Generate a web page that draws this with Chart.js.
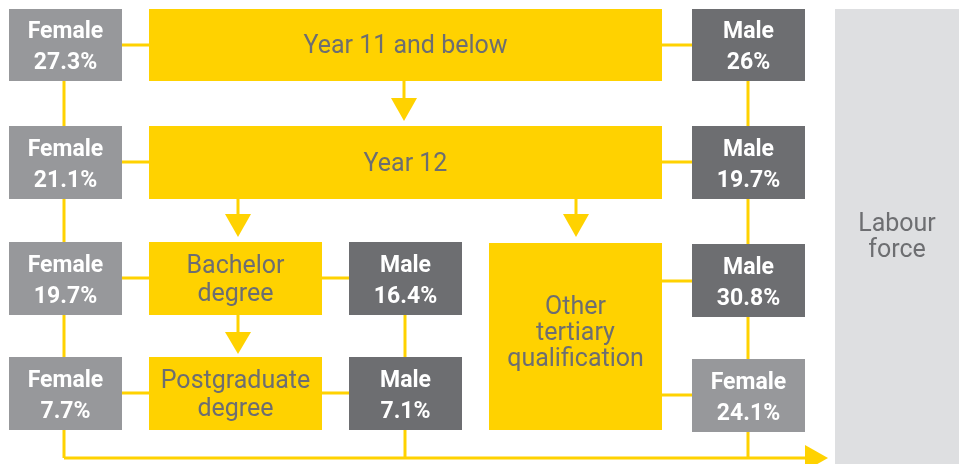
<!DOCTYPE html>
<html>
<head>
<meta charset="utf-8">
<script src="https://cdn.jsdelivr.net/npm/chart.js@4"></script>
<style>
  html, body { margin: 0; padding: 0; background: #fff; }
  canvas { display: block; }
</style>
</head>
<body>
<canvas id="flow_chart" width="959" height="464"></canvas>
<script>
'use strict';

// Data
const levels = ['Year 11 and below', 'Year 12', 'Bachelor degree', 'Postgraduate degree', 'Other tertiary qualification'];
const femaleShare = [27.3, 21.1, 19.7, 7.7, 24.1];
const maleShare = [26, 19.7, 16.4, 7.1, 30.8];
const destination = 'Labour force';

// Colours
const yellow = '#FFD200';
const femaleGrey = '#97989B';
const maleGrey = '#6D6E71';
const labourGrey = '#DEDFE1';
const textGrey = '#6D6E71';

const labelFont = '25px Roboto, "Open Sans", sans-serif';
const shareFont = 'bold 23px Roboto, "Open Sans", sans-serif';

// Layout (diagram units, same as the 959 x 464 canvas)
const levelBoxes = [
  { x: [149, 662], y: [9, 81], wrap: 400 },
  { x: [149, 662], y: [126, 199], wrap: 400 },
  { x: [149, 322], y: [242, 315], wrap: 120 },
  { x: [149, 322], y: [357, 430], wrap: 165 },
  { x: [489, 662], y: [243, 430], wrap: 130 }
];
const femaleBoxes = [
  { x: [9, 122], y: [9, 81] },
  { x: [9, 122], y: [126, 199] },
  { x: [9, 122], y: [242, 315] },
  { x: [9, 122], y: [357, 430] },
  { x: [692, 805], y: [359, 432] }
];
const maleBoxes = [
  { x: [692, 805], y: [9, 81] },
  { x: [692, 805], y: [126, 199] },
  { x: [349, 462], y: [242, 315] },
  { x: [349, 462], y: [357, 430] },
  { x: [692, 805], y: [244, 317] }
];
const labourBox = { x: [835, 980], y: [9, 480], wrap: 80 };

const connectors = [
  [[64, 81], [64, 458]],
  [[405, 315], [405, 458]],
  [[748, 81], [748, 458]],
  [[64, 458], [810, 458]],
  [[64, 45], [748, 45]],
  [[64, 162], [748, 162]],
  [[64, 278], [405, 278]],
  [[64, 393], [405, 393]],
  [[662, 281], [748, 281]],
  [[662, 395], [748, 395]]
];
// [x, from y, triangle top, tip]
const downArrows = [
  [404, 81, 98, 121],
  [238, 199, 214, 237],
  [576, 199, 214, 237],
  [238, 315, 332, 354]
];

function wrapText(ctx, text, maxWidth) {
  const words = text.split(' ');
  const lines = [];
  let line = '';
  words.forEach(w => {
    const test = line ? line + ' ' + w : w;
    if (line && ctx.measureText(test).width > maxWidth) {
      lines.push(line);
      line = w;
    } else {
      line = test;
    }
  });
  lines.push(line);
  return lines;
}

const flowPlugin = {
  id: 'flow',
  beforeDatasetsDraw(chart) {
    const ctx = chart.ctx;
    const sx = chart.scales.x;
    const sy = chart.scales.y;
    const px = v => sx.getPixelForValue(v);
    const py = v => sy.getPixelForValue(v);

    function rect(box, color) {
      const x0 = px(box.x[0]), x1 = px(box.x[1]);
      const y0 = py(box.y[0]), y1 = py(box.y[1]);
      ctx.fillStyle = color;
      ctx.fillRect(x0, y0, x1 - x0, y1 - y0);
      return { cx: (x0 + x1) / 2, cy: (y0 + y1) / 2 };
    }

    // text baseline 'middle' sits a little high for Roboto, nudge down
    function lines(list, cx, cy, gap) {
      const top = cy + 2 - (list.length - 1) * gap / 2;
      list.forEach((t, i) => ctx.fillText(t, cx, top + i * gap));
    }

    ctx.save();
    ctx.textAlign = 'center';
    ctx.textBaseline = 'middle';

    // Labour force panel
    rect(labourBox, labourGrey);
    ctx.font = labelFont;
    ctx.fillStyle = textGrey;
    lines(wrapText(ctx, destination, labourBox.wrap), px(897), py(236), 26);

    // Connector lines
    ctx.strokeStyle = yellow;
    ctx.lineWidth = 3;
    connectors.forEach(seg => {
      ctx.beginPath();
      ctx.moveTo(px(seg[0][0]), py(seg[0][1]));
      ctx.lineTo(px(seg[1][0]), py(seg[1][1]));
      ctx.stroke();
    });

    // Arrow into labour force
    ctx.fillStyle = yellow;
    ctx.beginPath();
    ctx.moveTo(px(805), py(445));
    ctx.lineTo(px(828), py(458));
    ctx.lineTo(px(805), py(471));
    ctx.closePath();
    ctx.fill();

    // Down arrows
    downArrows.forEach(a => {
      ctx.beginPath();
      ctx.moveTo(px(a[0]), py(a[1]));
      ctx.lineTo(px(a[0]), py(a[2]));
      ctx.stroke();
      ctx.beginPath();
      ctx.moveTo(px(a[0] - 13), py(a[2]));
      ctx.lineTo(px(a[0] + 13), py(a[2]));
      ctx.lineTo(px(a[0]), py(a[3]));
      ctx.closePath();
      ctx.fill();
    });

    // Education level boxes
    levels.forEach((name, i) => {
      const box = levelBoxes[i];
      const c = rect(box, yellow);
      ctx.font = labelFont;
      ctx.fillStyle = textGrey;
      const gap = i === 4 ? 26 : 28;
      lines(wrapText(ctx, name, box.wrap), c.cx, c.cy - (i === 4 ? 5 : 0), gap);
    });

    // Female / male share boxes
    ctx.font = shareFont;
    femaleShare.forEach((v, i) => {
      const c = rect(femaleBoxes[i], femaleGrey);
      ctx.fillStyle = '#fff';
      lines(['Female', v + '%'], c.cx, c.cy + 1, 31);
    });
    maleShare.forEach((v, i) => {
      const c = rect(maleBoxes[i], maleGrey);
      ctx.fillStyle = '#fff';
      lines(['Male', v + '%'], c.cx, c.cy + 1, 31);
    });

    ctx.restore();
  }
};

new Chart(document.querySelector('#flow_chart'), {
  type: 'scatter',
  data: {
    datasets: [{ data: [] }]
  },
  options: {
    responsive: false,
    animation: false,
    layout: { padding: 0 },
    plugins: {
      legend: { display: false },
      tooltip: { enabled: false }
    },
    scales: {
      x: { type: 'linear', min: 0, max: 959, display: false },
      y: { type: 'linear', min: 0, max: 464, reverse: true, display: false }
    }
  },
  plugins: [flowPlugin]
});
</script>
</body>
</html>
